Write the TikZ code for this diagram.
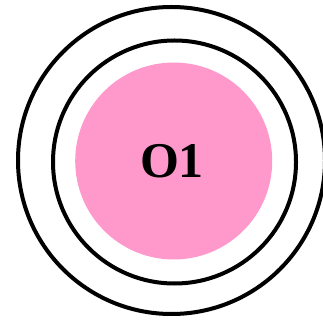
\documentclass[tikz,border=0pt]{standalone}
\usepackage{fontspec}
\setmainfont{Liberation Serif}
\definecolor{pinkfill}{RGB}{255,153,204}
\begin{document}
\begin{tikzpicture}[x=1pt,y=1pt,
  ring/.style={circle,draw=black,line width=4pt,inner sep=0pt},
  disc/.style={circle,fill=pinkfill,inner sep=0pt}]
\useasboundingbox (0,0) rectangle (323,321);
\begin{scope}
\clip (0,0) rectangle (323,321);
\node[ring,minimum size=307pt] (outer) at (171.5,160.5) {};
\end{scope}
\node[ring,minimum size=243pt] (inner) at (174.5,159) {};
\node[disc,minimum size=197pt] (core) at (173.7,160) {};
\node[font=\fontsize{50}{50}\selectfont\bfseries] (label) at (172,159.5) {O1};
\end{tikzpicture}
\end{document}
